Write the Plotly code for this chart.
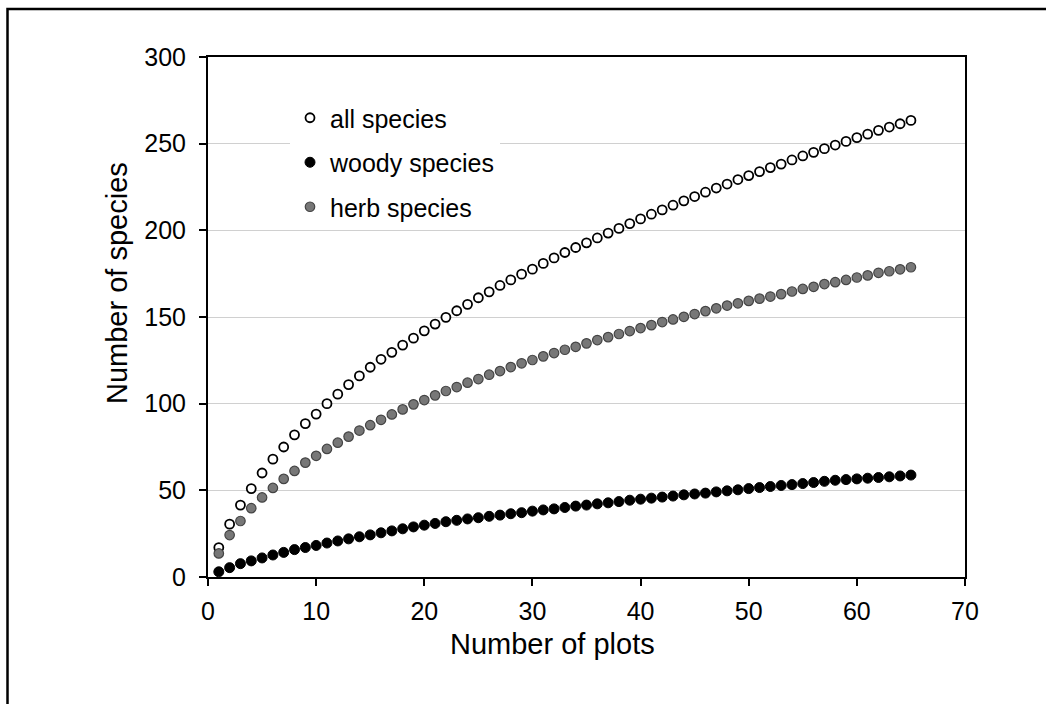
import plotly.graph_objects as go

plots = list(range(1, 66))

all_species = [17, 30.5, 41.5, 51, 60, 68, 75, 82, 88.5, 94,
               100, 105.5, 111, 116, 121, 125.6, 129.6, 133.8, 137.8, 142,
               145.9, 149.8, 153.6, 157.3, 161.1, 164.5, 168.2, 171.4, 174.7, 177.6,
               180.9, 184.1, 187.2, 190.1, 192.8, 195.6, 198.4, 201.1, 203.9, 206.6,
               209.3, 211.8, 214.5, 217, 219.5, 222, 224.4, 226.7, 229.3, 231.6,
               233.9, 236.2, 238.2, 240.6, 242.9, 245, 247.1, 249.2, 251.3, 253.5,
               255.5, 257.7, 259.6, 261.5, 263.4]

woody_species = [3, 5.4, 7.7, 9.3, 11, 12.7, 14.2, 15.8, 17, 18.2,
                 19.6, 20.8, 22, 23.2, 24.3, 25.5, 26.6, 27.8, 28.9, 29.9,
                 30.9, 31.9, 32.7, 33.5, 34.2, 35, 35.7, 36.5, 37.1, 38,
                 38.7, 39.3, 40.1, 40.9, 41.5, 42.2, 42.8, 43.5, 44.3, 44.9,
                 45.5, 46.1, 46.7, 47.4, 47.9, 48.4, 49.1, 49.7, 50.3, 51,
                 51.6, 52.2, 52.8, 53.3, 53.9, 54.5, 55.2, 55.8, 56.2, 56.6,
                 57, 57.4, 57.8, 58.3, 58.8]

herb_species = [13.6, 24.2, 32.3, 39.7, 45.9, 51.4, 56.6, 61.2, 66, 69.9,
                73.9, 77.5, 81, 84.5, 87.6, 90.7, 93.8, 96.7, 99.6, 102.1,
                104.8, 107.3, 109.6, 112.1, 114.2, 116.7, 118.8, 121.1, 123.3, 125.2,
                127.3, 129.2, 131.1, 132.8, 134.8, 136.7, 138.4, 140.2, 141.9, 143.6,
                145.3, 147.1, 148.6, 150.1, 151.7, 153.4, 155, 156.6, 157.9, 159.3,
                160.6, 161.8, 163.2, 164.7, 166.2, 167.4, 169, 170.1, 171.4, 172.8,
                174, 175.5, 176.4, 177.5, 178.7]

series_names = ["all species", "woody species", "herb species"]

FONT = "Liberation Sans, Arial, sans-serif"

fig = go.Figure()
fig.add_trace(go.Scatter(
    x=plots, y=all_species, mode="markers", name=series_names[0],
    legendgroup="a",
    marker=dict(size=9, color="white", line=dict(color="black", width=1.8)),
))
fig.add_trace(go.Scatter(
    x=plots, y=woody_species, mode="markers", name=series_names[1],
    legendgroup="b",
    marker=dict(size=10, color="black", line=dict(color="black", width=1)),
))
fig.add_trace(go.Scatter(
    x=plots, y=herb_species, mode="markers", name=series_names[2],
    legendgroup="c",
    marker=dict(size=9.5, color="#777777", line=dict(color="#444444", width=1.2)),
))

L, R, T, B = 208, 81, 57, 127
W, H = 1046, 704
pw, ph = W - L - R, H - T - B

def px_x(p):
    return (p - L) / pw

def px_y(p):
    return (H - B - p) / ph

fig.update_layout(
    width=W, height=H,
    margin=dict(l=L, r=R, t=T, b=B, autoexpand=False),
    paper_bgcolor="white", plot_bgcolor="white",
    font=dict(family=FONT, size=25, color="black"),
    showlegend=True,
    legend=dict(
        x=px_x(290), y=px_y(95), xanchor="left", yanchor="top",
        bgcolor="white", borderwidth=0,
        font=dict(family=FONT, size=25, color="black"),
        traceorder="grouped", tracegroupgap=9, itemwidth=30,
    ),
    xaxis=dict(
        range=[0, 70], dtick=10, tick0=0,
        showline=True, linecolor="black", linewidth=2, mirror=True,
        ticks="outside", ticklen=7, tickwidth=2, tickcolor="black",
        showgrid=False, zeroline=False,
        tickfont=dict(family=FONT, size=25, color="black"),
        ticklabelstandoff=4,
    ),
    yaxis=dict(
        range=[0, 300], dtick=50, tick0=0,
        showline=True, linecolor="black", linewidth=2, mirror=True,
        ticks="outside", ticklen=7, tickwidth=2, tickcolor="black",
        showgrid=True, gridcolor="#d0d0d0", gridwidth=1, zeroline=False,
        tickfont=dict(family=FONT, size=25, color="black"),
        ticklabelstandoff=8,
    ),
    annotations=[
        dict(text="Number of plots", xref="paper", yref="paper",
             x=px_x(552), y=px_y(644), xanchor="center", yanchor="middle",
             showarrow=False, font=dict(family=FONT, size=29, color="black")),
        dict(text="Number of species", xref="paper", yref="paper",
             x=px_x(117), y=px_y(283), xanchor="center", yanchor="middle",
             textangle=-90,
             showarrow=False, font=dict(family=FONT, size=29, color="black")),
    ],
    shapes=[
        dict(type="path", xref="paper", yref="paper",
             path=f"M {px_x(7.5)} {px_y(720)} L {px_x(7.5)} {px_y(9)} L {px_x(1060)} {px_y(9)}",
             line=dict(color="black", width=2.5)),
    ],
)

fig.write_html(
    "out.html",
    config={"displayModeBar": False},
    post_script="document.body.style.margin='0';document.body.style.overflow='hidden';",
)
